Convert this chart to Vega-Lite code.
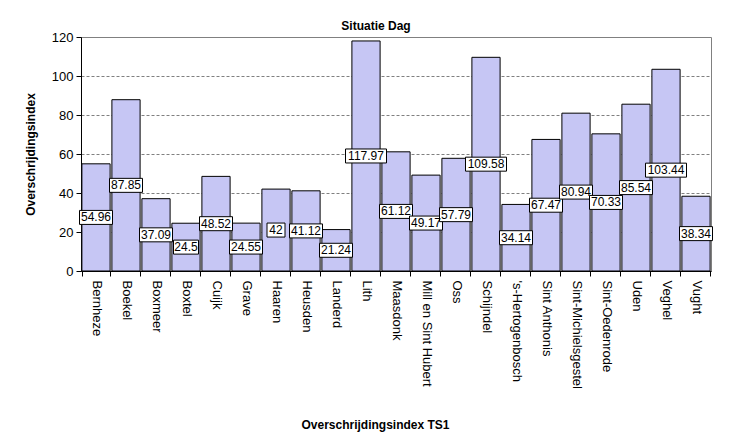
{
  "$schema": "https://vega.github.io/schema/vega-lite/v6.json",
  "width": 630,
  "height": 234,
  "autosize": {"type": "none"},
  "padding": {"left": 81, "top": 37, "right": 19, "bottom": 169},
  "background": "white",
  "title": {"text": "Situatie Dag", "fontSize": 12, "font": "Liberation Sans", "fontWeight": "bold", "color": "black", "anchor": "middle", "dx": -20, "dy": 21, "offset": 10, "baseline": "alphabetic"},
  "config": {"view": {"stroke": "#808080", "strokeWidth": 1}, "font": "Liberation Sans"},
  "data": {"values": [
    {"gemeente": "Bernheze", "v": 54.96},
    {"gemeente": "Boekel", "v": 87.85},
    {"gemeente": "Boxmeer", "v": 37.09},
    {"gemeente": "Boxtel", "v": 24.5},
    {"gemeente": "Cuijk", "v": 48.52},
    {"gemeente": "Grave", "v": 24.55},
    {"gemeente": "Haaren", "v": 42},
    {"gemeente": "Heusden", "v": 41.12},
    {"gemeente": "Landerd", "v": 21.24},
    {"gemeente": "Lith", "v": 117.97},
    {"gemeente": "Maasdonk", "v": 61.12},
    {"gemeente": "Mill en Sint Hubert", "v": 49.17},
    {"gemeente": "Oss", "v": 57.79},
    {"gemeente": "Schijndel", "v": 109.58},
    {"gemeente": "'s-Hertogenbosch", "v": 34.14},
    {"gemeente": "Sint Anthonis", "v": 67.47},
    {"gemeente": "Sint-Michielsgestel", "v": 80.94},
    {"gemeente": "Sint-Oedenrode", "v": 70.33},
    {"gemeente": "Uden", "v": 85.54},
    {"gemeente": "Veghel", "v": 103.44},
    {"gemeente": "Vught", "v": 38.34}
  ]},
  "transform": [
    {"calculate": "toString(datum.v)", "as": "lab"},
    {"calculate": "length(datum.lab)", "as": "len"},
    {"calculate": "datum.v / 2", "as": "half"}
  ],
  "encoding": {
    "x": {
      "field": "gemeente", "type": "nominal", "sort": null,
      "scale": {"paddingInner": 0.06, "paddingOuter": 0.03},
      "title": "Overschrijdingsindex TS1",
      "axis": {"labelAngle": 90, "labelAlign": "left", "labelBaseline": "middle", "labelPadding": 4, "tickBand": "extent", "tickSize": 5, "domainColor": "black", "tickColor": "black", "labelColor": "black", "labelFontSize": 13, "labelFont": "Liberation Sans", "titleFont": "Liberation Sans", "titleFontSize": 12, "titleFontWeight": "bold", "titleColor": "black", "titleX": 294, "titleY": 153, "titleBaseline": "middle", "titleAlign": "center", "grid": false, "labelLimit": 0}
    }
  },
  "layer": [
    {
      "mark": {"type": "bar", "fill": "#c6c6f4", "stroke": "black", "strokeWidth": 1},
      "encoding": {
        "y": {"field": "v", "type": "quantitative", "scale": {"domain": [0, 120], "nice": false}, "title": "Overschrijdingsindex",
          "axis": {"values": [0, 20, 40, 60, 80, 100, 120], "grid": true, "gridColor": "#808080", "gridDash": [3, 2], "domainColor": "black", "tickColor": "black", "tickSize": 5, "labelColor": "black", "labelFontSize": 13, "labelFont": "Liberation Sans", "labelPadding": 3, "titleFont": "Liberation Sans", "titleFontSize": 12, "titleFontWeight": "bold", "titleColor": "black", "titleX": -51, "titleY": 117, "titleAngle": -90, "titleBaseline": "middle", "titleAlign": "center"}}
      }
    },
    {
      "mark": {"type": "point", "filled": true, "fill": "white", "stroke": "black", "strokeWidth": 1, "size": 4, "opacity": 1},
      "encoding": {
        "y": {"field": "half", "type": "quantitative", "title": "Overschrijdingsindex",
          "axis": {"values": [0, 20, 40, 60, 80, 100, 120], "grid": true, "gridColor": "#808080", "gridDash": [3, 2], "domainColor": "black", "tickColor": "black", "tickSize": 5, "labelColor": "black", "labelFontSize": 13, "labelFont": "Liberation Sans", "labelPadding": 3, "titleFont": "Liberation Sans", "titleFontSize": 12, "titleFontWeight": "bold", "titleColor": "black", "titleX": -51, "titleY": 117, "titleAngle": -90, "titleBaseline": "middle", "titleAlign": "center"}},
        "shape": {"field": "len", "type": "nominal", "legend": null,
          "scale": {"domain": [2, 4, 5, 6], "range": ["M-9,-7H9V7H-9Z", "M-12.5,-7H12.5V7H-12.5Z", "M-16.5,-7H16.5V7H-16.5Z", "M-20.5,-7H20.5V7H-20.5Z"]}}
      }
    },
    {
      "mark": {"type": "text", "fontSize": 12, "font": "Liberation Sans", "color": "black", "baseline": "middle", "align": "center"},
      "encoding": {
        "y": {"field": "half", "type": "quantitative", "title": "Overschrijdingsindex",
          "axis": {"values": [0, 20, 40, 60, 80, 100, 120], "grid": true, "gridColor": "#808080", "gridDash": [3, 2], "domainColor": "black", "tickColor": "black", "tickSize": 5, "labelColor": "black", "labelFontSize": 13, "labelFont": "Liberation Sans", "labelPadding": 3, "titleFont": "Liberation Sans", "titleFontSize": 12, "titleFontWeight": "bold", "titleColor": "black", "titleX": -51, "titleY": 117, "titleAngle": -90, "titleBaseline": "middle", "titleAlign": "center"}},
        "text": {"field": "lab", "type": "nominal"}
      }
    }
  ]
}
